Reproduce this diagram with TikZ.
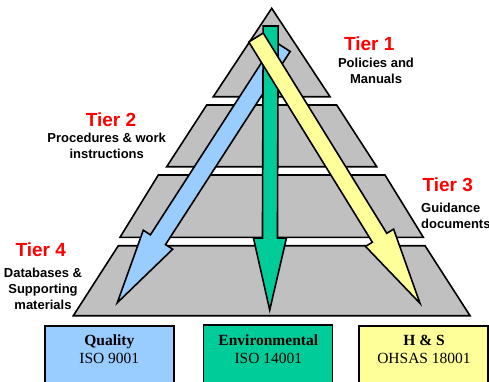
\documentclass[tikz,border=0pt]{standalone}
\usepackage{fontspec}
\setmainfont{Liberation Serif}
\setsansfont{Liberation Sans}
\usetikzlibrary{calc,positioning}

\definecolor{tiergray}{HTML}{C0C0C0}
\definecolor{qblue}{HTML}{99CCFF}
\definecolor{egreen}{HTML}{00CC99}
\definecolor{hyellow}{HTML}{FFFF99}

% fat arrow: start, tip, half shaft, half head, head length, fill
\newcommand{\flowarrow}[6]{%
  \coordinate (#1h) at ($(#2)!#5!(#1)$);
  \filldraw[arrowline,fill=#6]
    ($(#1)!#3!90:(#2)$) -- ($(#1h)!#3!90:(#2)$) -- ($(#1h)!#4!90:(#2)$) --
    (#2) -- ($(#1h)!#4!-90:(#2)$) -- ($(#1h)!#3!-90:(#2)$) --
    ($(#1)!#3!-90:(#2)$) -- cycle;
}

\begin{document}
\begin{tikzpicture}
  [x=1pt,y=-1pt,
  tierline/.style={draw=black,line width=1.6pt,fill=tiergray},
  arrowline/.style={draw=black,line width=1.6pt},
  stdbox/.style={draw=black,line width=1.6pt,minimum width=129pt,minimum height=70pt,anchor=north},
  tiername/.style={inner sep=0pt,text=red,font=\sffamily\bfseries\fontsize{19}{22}\selectfont},
  tiernote/.style={inner sep=0pt,align=center,font=\sffamily\bfseries\fontsize{13}{16}\selectfont},
  boxtext/.style={inner sep=0pt,align=center,font=\rmfamily\fontsize{15.5}{18.3}\selectfont}
  ]
  \useasboundingbox (0,0) rectangle (489,381);

  % pyramid
  \draw[tierline] (271.7,8.3) -- (330,96.7) -- (213.3,96.7) -- cycle;
  \draw[tierline] (206.7,105) -- (336.7,105) -- (376.7,166.7) -- (166.7,166.7) -- cycle;
  \draw[tierline] (158.3,175) -- (385,175) -- (423.3,237.3) -- (120,237.3) -- cycle;
  \draw[tierline] (118.3,245.7) -- (425,245.7) -- (470,315.7) -- (73.3,315.7) -- cycle;

  % arrows
  \coordinate (qs) at (282.6,46.6);
  \coordinate (qt) at (117.3,302.7);
  \coordinate (es) at (270.7,26);
  \coordinate (et) at (269.7,310);
  \coordinate (hs) at (256,37.5);
  \coordinate (ht) at (420,303.3);
  \flowarrow{qs}{qt}{9pt}{17.5pt}{75pt}{qblue}
  \flowarrow{es}{et}{7.5pt}{16.5pt}{72pt}{egreen}
  \flowarrow{hs}{ht}{8.5pt}{16.5pt}{77pt}{hyellow}

  % tier labels
  \node[tiername] (tier1) at (369.3,43.3) {Tier 1};
  \node[tiernote] (note1) at (376,71.3) {Policies and\\Manuals};
  \node[tiername] (tier2) at (111,120) {Tier 2};
  \node[tiernote] (note2) at (106.7,146.3) {Procedures \& work\\instructions};
  \node[tiername] (tier3) at (447.7,184.3) {Tier 3};
  \node[tiernote,align=left,anchor=west] (note3) at (421,216.2) {Guidance\\documents};
  \node[tiername] (tier4) at (40.7,249.3) {Tier 4};
  \node[tiernote] (note4) at (43,288.8) {Databases \&\\Supporting\\materials};

  % standards
  \node[stdbox,fill=qblue] (quality) at (109.7,325) {};
  \node[stdbox,fill=egreen] (environ) at (268,324) {};
  \node[stdbox,fill=hyellow] (health) at (423.7,325) {};
  \node[boxtext] (qtext) at (109.3,349.5) {\textbf{Quality}\\ISO 9001};
  \node[boxtext] (etext) at (268.3,349) {\textbf{Environmental}\\ISO 14001};
  \node[boxtext] (htext) at (424,349.5) {\textbf{H \& S}\\OHSAS 18001};
\end{tikzpicture}
\end{document}
